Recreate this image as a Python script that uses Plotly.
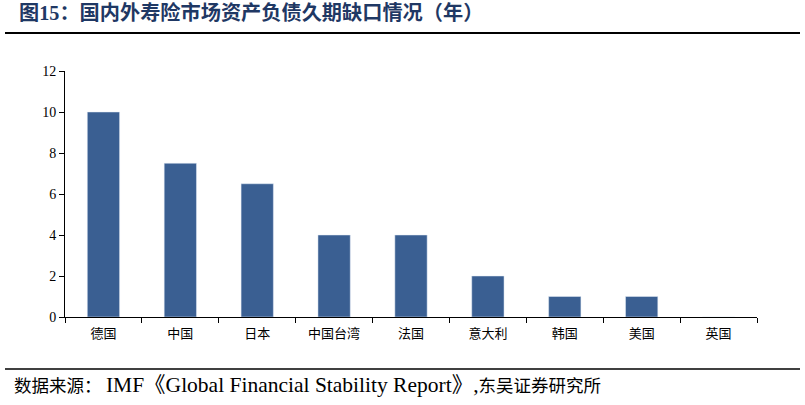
import plotly.graph_objects as go

categories = ["德国", "中国", "日本", "中国台湾", "法国", "意大利", "韩国", "美国", "英国"]
gap_years = [10, 7.5, 6.5, 4, 4, 2, 1, 1, 0]
y_ticks = [0, 2, 4, 6, 8, 10, 12]

W, H = 805, 405
L, R, T, B = 65, 757, 71, 317

def px(x):
    return (x - L) / (R - L)

def py(y):
    return (B - y) / (B - T)

fig = go.Figure(go.Bar(x=categories, y=gap_years, marker_color="#3A5F92", width=0.42))

fig.update_layout(
    width=W, height=H,
    margin=dict(l=L, r=W - R, t=T, b=H - B),
    plot_bgcolor="white", paper_bgcolor="white",
    showlegend=False,
    font=dict(family="Liberation Serif, Noto Sans CJK SC", color="black"),
    xaxis=dict(
        type="category", showline=True, linecolor="black", linewidth=1,
        ticks="outside", ticklen=5, tickcolor="black", tickson="boundaries",
        tickfont=dict(size=13, family="Noto Sans CJK SC"), showgrid=False,
        ticklabelstandoff=4,
    ),
    yaxis=dict(
        range=[0, 12], tickvals=y_ticks, showline=True, linecolor="black", linewidth=1,
        ticks="outside", ticklen=5, tickcolor="black", showgrid=False, zeroline=False,
        tickfont=dict(size=14, family="Liberation Serif"),
    ),
    shapes=[
        dict(type="line", xref="paper", yref="paper", x0=px(5), x1=px(800), y0=py(33), y1=py(33),
             line=dict(color="black", width=2)),
        dict(type="line", xref="paper", yref="paper", x0=px(5), x1=px(800), y0=py(369), y1=py(369),
             line=dict(color="black", width=1.5)),
    ],
    annotations=[
        dict(text="<b>图15：国内外寿险市场资产负债久期缺口情况（年）</b>", xref="paper", yref="paper",
             x=px(17), y=py(13), xanchor="left", yanchor="middle", showarrow=False,
             font=dict(size=20.2, color="#1F3864", family="Liberation Serif, Noto Sans CJK SC")),
        dict(text="数据来源： <span style='font-size:21.5px'>IMF《Global Financial Stability Report》,</span>东吴证券研究所",
             xref="paper", yref="paper",
             x=px(12), y=py(385), xanchor="left", yanchor="middle", showarrow=False,
             font=dict(size=17.5, color="black", family="Liberation Serif, Noto Sans CJK SC")),
    ],
)

fig.write_html("out.html", config={"displayModeBar": False},
               post_script="document.body.style.margin='0';")
